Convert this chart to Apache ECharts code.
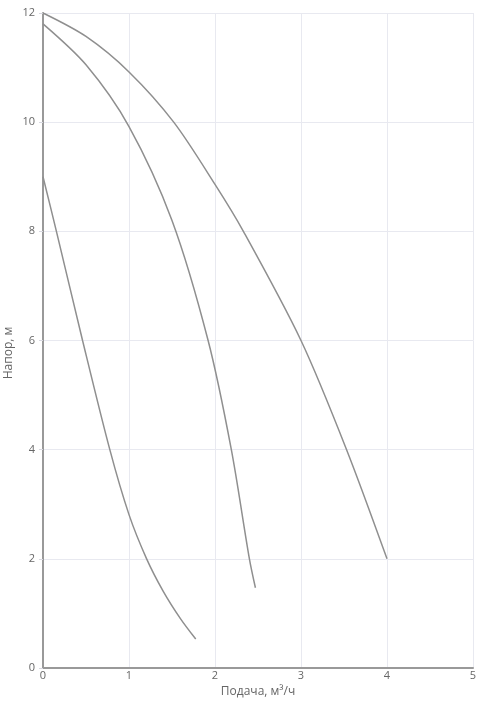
<!DOCTYPE html>
<html>
<head>
<meta charset="utf-8">
<script src="https://cdn.jsdelivr.net/npm/echarts@6/dist/echarts.min.js"></script>
<style>
html,body{margin:0;padding:0;background:#fff;}
#chart{width:482px;height:706px;}
</style>
</head>
<body>
<div id="chart"></div>
<script>
var xAxisName = 'Подача, м³/ч';
var yAxisName = 'Напор, м';

var curve1 = [[0,12],[0.5,11.57],[1,10.92],[1.52,10.0],[2,8.86],[2.33,8],[3,6],[3.53,4],[4,2]];
var curve2 = [[0,11.8],[0.5,11.05],[1,9.92],[1.5,8.2],[1.92,6],[2.19,4],[2.40,2],[2.47,1.47]];
var curve3 = [[0,9],[0.156,8],[0.46,6],[0.777,4],[1,2.81],[1.205,2.0],[1.4,1.4],[1.6,0.9],[1.776,0.53]];

var chart = echarts.init(document.getElementById('chart'), null, {renderer:'canvas'});
var font = 'Open Sans';
function lineSeries(d){
  return {type:'line', data:d, smooth:0.3, showSymbol:false, silent:true,
    lineStyle:{color:'#8f8f8f', width:1.5}};
}
chart.setOption({
  animation:false,
  backgroundColor:'#fff',
  grid:{left:43, right:9, top:13, bottom:38, containLabel:false, outerBoundsMode:'none'},
  graphic:[{type:'text', left:3, top:'middle', rotation:Math.PI/2, silent:true,
    style:{text:yAxisName, fill:'#666', font:'12px "Open Sans"'}}],
  xAxis:{type:'value', min:0, max:5, interval:1,
    name:xAxisName, nameLocation:'middle', nameGap:15,
    nameTextStyle:{color:'#666', fontSize:12, fontFamily:font},
    axisLine:{show:true, onZero:false, lineStyle:{color:'#999', width:2}},
    axisTick:{show:false},
    axisLabel:{color:'#666', fontSize:11, fontFamily:font, margin:2},
    splitLine:{show:true, lineStyle:{color:'#e8e9f0', width:1}}
  },
  yAxis:{type:'value', min:0, max:12, interval:2,
    axisLine:{show:true, onZero:false, lineStyle:{color:'#999', width:2}},
    axisTick:{show:true, length:4, lineStyle:{color:'#d8d8e0'}},
    axisLabel:{color:'#666', fontSize:11, fontFamily:font, margin:8, padding:[0,0,6,0]},
    splitLine:{show:true, lineStyle:{color:'#e8e9f0', width:1}}
  },
  series:[lineSeries(curve1), lineSeries(curve2), lineSeries(curve3)]
});
</script>
</body>
</html>
